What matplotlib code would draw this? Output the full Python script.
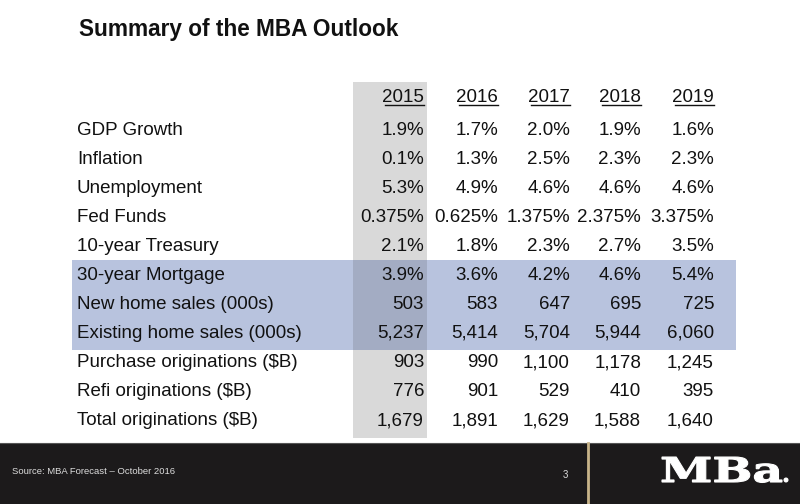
import matplotlib
matplotlib.use("Agg")
import matplotlib.pyplot as plt
from matplotlib.patches import Rectangle, PathPatch
from matplotlib.textpath import TextPath
from matplotlib.font_manager import FontProperties
from matplotlib.transforms import Affine2D

# ---- data ----
years = ["2015", "2016", "2017", "2018", "2019"]
row_labels = ["GDP Growth", "Inflation", "Unemployment", "Fed Funds", "10-year Treasury",
              "30-year Mortgage", "New home sales (000s)", "Existing home sales (000s)",
              "Purchase originations ($B)", "Refi originations ($B)", "Total originations ($B)"]
gdp_growth = [1.9, 1.7, 2.0, 1.9, 1.6]
inflation = [0.1, 1.3, 2.5, 2.3, 2.3]
unemployment = [5.3, 4.9, 4.6, 4.6, 4.6]
fed_funds = [0.375, 0.625, 1.375, 2.375, 3.375]
treasury_10y = [2.1, 1.8, 2.3, 2.7, 3.5]
mortgage_30y = [3.9, 3.6, 4.2, 4.6, 5.4]
new_home_sales = [503, 583, 647, 695, 725]
existing_home_sales = [5237, 5414, 5704, 5944, 6060]
purchase_orig = [903, 990, 1100, 1178, 1245]
refi_orig = [776, 901, 529, 410, 395]
total_orig = [1679, 1891, 1629, 1588, 1640]
title = "Summary of the MBA Outlook"
source = "Source: MBA Forecast \u2013 October 2016"
page_no = "3"
logo = "MBa"

rows = [gdp_growth, inflation, unemployment, fed_funds, treasury_10y, mortgage_30y,
        new_home_sales, existing_home_sales, purchase_orig, refi_orig, total_orig]
fmts = ["{:.1f}%", "{:.1f}%", "{:.1f}%", "{:.3f}%", "{:.1f}%", "{:.1f}%",
        "{:,.0f}", "{:,.0f}", "{:,.0f}", "{:,.0f}", "{:,.0f}"]
highlight_rows = [5, 6, 7]

# ---- layout ----
plt.rcParams['font.family'] = ['Liberation Sans', 'DejaVu Sans']
fig = plt.figure(figsize=(8, 5.04), dpi=100)
ax = fig.add_axes([0, 0, 1, 1])
ax.set_xlim(0, 800)
ax.set_ylim(504, 0)
ax.axis('off')

col_right = [424, 498, 570, 641, 714]
row_base0, row_dy = 135, 29.0
header_base = 102
label_x = 77
fs = 13.5

# gray column for 2015
ax.add_patch(Rectangle((353, 82), 74, 356, color='#d9d9d9', zorder=1, lw=0))
# blue highlight band
band_top = 260
band_h = len(highlight_rows) * row_dy + 3
ax.add_patch(Rectangle((72, band_top), 664, band_h, color='#b8c3de', zorder=2, lw=0))
ax.add_patch(Rectangle((353, band_top), 74, band_h, color='#a3acc3', zorder=3, lw=0))

ax.text(79, 36, title, fontsize=16.3, fontweight='bold', ha='left', va='baseline', color='#111111')

for x, yr in zip(col_right, years):
    ax.text(x, header_base, yr, fontsize=fs, ha='right', va='baseline', color='#111111', zorder=5)
    w = 39
    ax.plot([x - w, x], [header_base + 2.5, header_base + 2.5], color='#111111', lw=1, zorder=5)

for i, (lab, vals, f) in enumerate(zip(row_labels, rows, fmts)):
    y = row_base0 + i * row_dy
    ax.text(label_x, y, lab, fontsize=fs, ha='left', va='baseline', color='#111111', zorder=5)
    for x, v in zip(col_right, vals):
        ax.text(x, y, f.format(v), fontsize=fs, ha='right', va='baseline', color='#111111', zorder=5)

# footer
ax.add_patch(Rectangle((0, 443), 800, 61, color='#1c1a1b', zorder=1, lw=0))
ax.plot([0, 800], [443, 443], color='#555555', lw=0.8, zorder=2)
ax.plot([588, 588], [443, 504], color='#c8b48a', lw=2, zorder=3)
ax.text(12, 474, source, fontsize=6.8, color='#dddddd', ha='left', va='baseline')
ax.text(565, 478, page_no, fontsize=7, color='#dddddd', ha='center', va='baseline')

# logo as stretched text path
tp = TextPath((0, 0), logo, size=1, prop=FontProperties(family='DejaVu Serif', weight='bold'))
ext = tp.get_extents()
x0, x1, y0 = 662, 782, 482
sx = (x1 - x0) / ext.width
sy = 25 / 0.73
tr = Affine2D().translate(-ext.x0, 0).scale(sx, -sy).translate(x0, y0)
ax.add_patch(PathPatch(tr.transform_path(tp), facecolor='white', edgecolor='white', lw=0.8, zorder=5))
ax.add_patch(plt.Circle((786, 480), 1.8, color='white', zorder=5))

fig.savefig("out.png", dpi=100, facecolor='white')
